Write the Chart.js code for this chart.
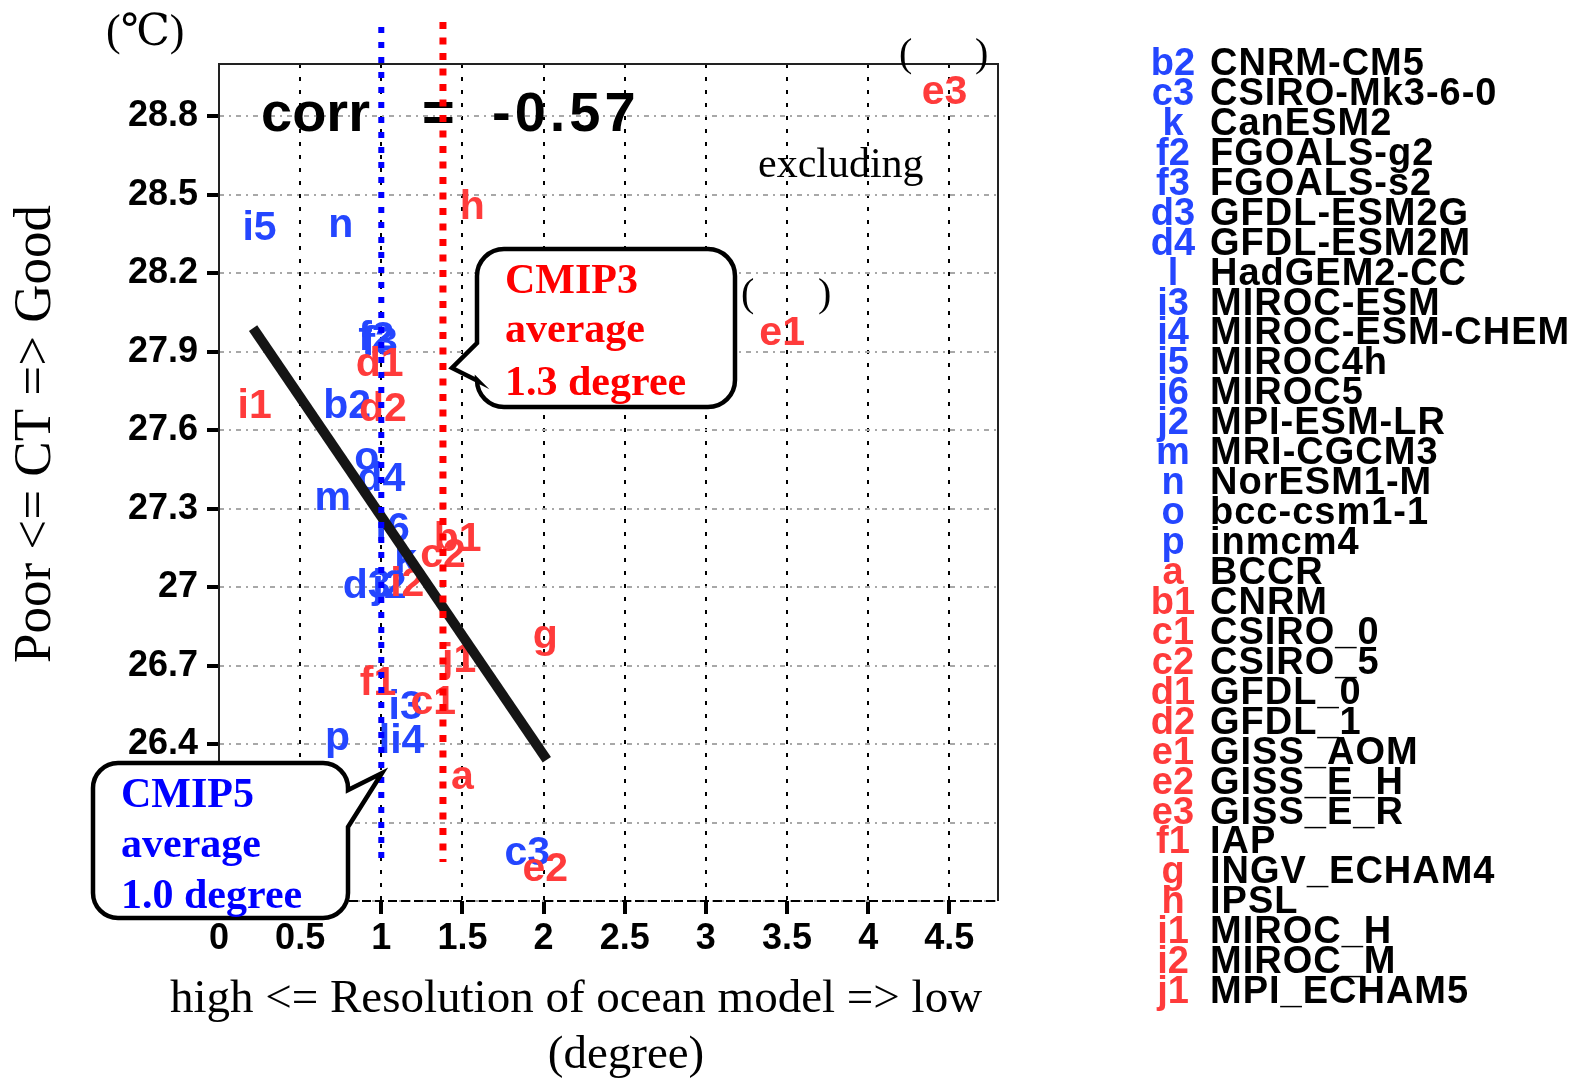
<!DOCTYPE html>
<html><head><meta charset="utf-8">
<script src="https://cdn.jsdelivr.net/npm/chart.js@4.4.0/dist/chart.umd.min.js"></script>
<style>html,body{margin:0;padding:0;background:#fff;overflow:hidden}canvas{display:block}</style>
</head><body>
<canvas id="c" width="1575" height="1082"></canvas>
<script>
// ---- data ----
const cmip5Codes = ['b2','c3','k','f2','f3','d3','d4','l','i3','i4','i5','i6','j2','m','n','o','p'];
const cmip5Names = ['CNRM-CM5','CSIRO-Mk3-6-0','CanESM2','FGOALS-g2','FGOALS-s2','GFDL-ESM2G','GFDL-ESM2M','HadGEM2-CC','MIROC-ESM','MIROC-ESM-CHEM','MIROC4h','MIROC5','MPI-ESM-LR','MRI-CGCM3','NorESM1-M','bcc-csm1-1','inmcm4'];
const cmip5Res = [0.79,1.90,1.15,0.97,0.99,0.91,1.00,1.02,1.15,1.16,0.25,1.07,1.05,0.70,0.75,0.91,0.73];
const cmip5CT  = [27.69,25.98,27.10,27.95,27.93,27.00,27.41,26.41,26.54,26.41,28.37,27.22,27.00,27.34,28.38,27.49,26.42];

const cmip3Codes = ['a','b1','c1','c2','d1','d2','e1','e2','e3','f1','g','h','i1','i2','j1'];
const cmip3Names = ['BCCR','CNRM','CSIRO_0','CSIRO_5','GFDL_0','GFDL_1','GISS_AOM','GISS_E_H','GISS_E_R','IAP','INGV_ECHAM4','IPSL','MIROC_H','MIROC_M','MPI_ECHAM5'];
const cmip3Res = [1.50,1.47,1.32,1.38,0.99,1.01,3.47,2.01,4.47,0.98,2.01,1.56,0.22,1.16,1.48];
const cmip3CT  = [26.27,27.18,26.56,27.12,27.85,27.68,27.97,25.92,28.89,26.63,26.81,28.45,27.69,27.01,26.72];

const fitRes = [0.21, 2.02];
const fitCT  = [27.99, 26.34];

const cmip5Avg = 1.0;
const cmip3Avg = 1.38;
const corrText = '-0.57';

const xTicks = [0,0.5,1,1.5,2,2.5,3,3.5,4,4.5];
const xTickLabels = ['0','0.5','1','1.5','2','2.5','3','3.5','4','4.5'];
const yTicks = [25.8,26.1,26.4,26.7,27.0,27.3,27.6,27.9,28.2,28.5,28.8];
const yTickLabels = ['25.8','26.1','26.4','26.7','27','27.3','27.6','27.9','28.2','28.5','28.8'];

// ---- styles ----
const BLUE_TXT = '#2446ff', RED_TXT = '#ff3b3b';
const GRADS = '"Liberation Sans", Arial, sans-serif';
const SERIF = '"Liberation Serif", "Times New Roman", "DejaVu Serif", serif';

function pts(xs, ys){ return xs.map((x,i)=>({x:x, y:ys[i]})); }

const labelPlugin = {
  id: 'codeLabels',
  beforeDatasetsDraw(chart){
    const ctx = chart.ctx;
    [0,1].forEach(di=>{
      const ds = chart.data.datasets[di];
      const meta = chart.getDatasetMeta(di);
      ctx.save();
      ctx.font = 'bold 41px ' + GRADS;
      ctx.fillStyle = ds.textColor;
      ctx.textAlign = 'center';
      ctx.textBaseline = 'middle';
      meta.data.forEach((p,i)=>ctx.fillText(ds.codes[i], p.x, p.y));
      ctx.restore();
    });
  }
};

function callout(ctx, L, T, R, B, r, side, tail){
  ctx.beginPath();
  ctx.moveTo(L+r, T);
  ctx.lineTo(R-r, T);
  ctx.arcTo(R, T, R, T+r, r);
  if (side === 'right'){ tail.forEach(p=>ctx.lineTo(p[0], p[1])); }
  ctx.lineTo(R, B-r);
  ctx.arcTo(R, B, R-r, B, r);
  ctx.lineTo(L+r, B);
  ctx.arcTo(L, B, L, B-r, r);
  if (side === 'left'){ tail.forEach(p=>ctx.lineTo(p[0], p[1])); }
  ctx.lineTo(L, T+r);
  ctx.arcTo(L, T, L+r, T, r);
  ctx.closePath();
  ctx.fillStyle = '#fff';
  ctx.fill();
  ctx.lineWidth = 4.5;
  ctx.strokeStyle = '#000';
  ctx.lineJoin = 'miter';
  ctx.stroke();
}

const overlayPlugin = {
  id: 'overlay',
  afterDatasetsDraw(chart){
    const {ctx, chartArea:a, scales:{x, y}} = chart;
    ctx.save();
    // frame
    ctx.lineWidth = 2;
    ctx.strokeStyle = '#222';
    ctx.beginPath();
    ctx.moveTo(a.left, a.bottom); ctx.lineTo(a.left, a.top); ctx.lineTo(a.right, a.top); ctx.lineTo(a.right, a.bottom);
    ctx.stroke();
    ctx.strokeStyle = '#000';
    ctx.setLineDash([9,4]);
    ctx.beginPath(); ctx.moveTo(a.left, a.bottom); ctx.lineTo(a.right, a.bottom); ctx.stroke();
    ctx.setLineDash([]);

    // correlation text
    ctx.fillStyle = '#000';
    ctx.font = 'bold 56px ' + GRADS;
    ctx.textBaseline = 'alphabetic';
    ctx.textAlign = 'left';
    ctx.fillText('corr', 261, 131);
    ctx.fillText('=', 422, 131);
    ctx.letterSpacing = '4px';
    ctx.fillText(corrText, 492, 131);
    ctx.letterSpacing = '0px';

    // serif annotations
    ctx.font = '42px ' + SERIF;
    ctx.fillText('excluding', 758, 177);
    ctx.font = '40px ' + SERIF;
    ctx.fillText('(', 899, 66); ctx.fillText(')', 975, 66);
    ctx.fillText('(', 741, 306); ctx.fillText(')', 818, 306);

    // average lines
    const drawAvg = (v, color, w, dash, top, bot) => {
      const px = x.getPixelForValue(v);
      ctx.save();
      ctx.strokeStyle = color; ctx.lineWidth = w; ctx.setLineDash(dash); ctx.lineCap = 'butt';
      ctx.beginPath(); ctx.moveTo(px, top); ctx.lineTo(px, bot); ctx.stroke();
      ctx.restore();
    };
    drawAvg(cmip5Avg, '#0000ff', 6, [6,9], 27, 860);
    drawAvg(cmip3Avg, '#ff0000', 7, [7,8.5], 22, 862);

    // callouts
    callout(ctx, 477, 249, 735, 407, 27, 'left', [[478,381],[452,368],[477,343]]);
    callout(ctx, 93, 763, 348, 918, 25, 'right', [[348,790],[382,773],[348,827]]);
    ctx.font = 'bold 42px ' + SERIF;
    ctx.textAlign = 'left';
    ctx.fillStyle = '#ff0000';
    ctx.fillText('CMIP3', 505, 293);
    ctx.fillText('average', 505, 342);
    ctx.fillText('1.3 degree', 505, 395);
    ctx.fillStyle = '#0000ff';
    ctx.fillText('CMIP5', 121, 807);
    ctx.fillText('average', 121, 857);
    ctx.fillText('1.0 degree', 121, 908);
    ctx.restore();
  },
  afterDraw(chart){
    const ctx = chart.ctx;
    ctx.save();
    ctx.fillStyle = '#000';
    ctx.textBaseline = 'alphabetic';
    // unit
    ctx.font = '44px ' + SERIF;
    ctx.textAlign = 'left';
    ctx.fillText('(℃)', 106, 45);
    // axis titles
    ctx.font = '47px ' + SERIF;
    ctx.textAlign = 'center';
    ctx.fillText('high <= Resolution of ocean model => low', 576, 1012);
    ctx.fillText('(degree)', 626, 1068);
    ctx.save();
    ctx.translate(50, 434);
    ctx.rotate(-Math.PI/2);
    ctx.font = '53px ' + SERIF;
    ctx.fillText('Poor <= CT => Good', 0, 0);
    ctx.restore();
    // legend
    const rows = cmip5Codes.map((c,i)=>[c, cmip5Names[i], BLUE_TXT]).concat(cmip3Codes.map((c,i)=>[c, cmip3Names[i], RED_TXT]));
    ctx.font = 'bold 38px ' + GRADS;
    rows.forEach((r,i)=>{
      const by = 75 + 29.94*i;
      ctx.fillStyle = r[2];
      ctx.textAlign = 'center';
      ctx.letterSpacing = '0px';
      ctx.fillText(r[0], 1173, by);
      ctx.fillStyle = '#000';
      ctx.textAlign = 'left';
      ctx.letterSpacing = '1px';
      ctx.fillText(r[1], 1210, by);
    });
    ctx.letterSpacing = '0px';
    ctx.restore();
  }
};

new Chart(document.getElementById('c'), {
  type: 'scatter',
  data: {
    datasets: [
      { label: 'CMIP5', data: pts(cmip5Res, cmip5CT), codes: cmip5Codes, textColor: BLUE_TXT, pointRadius: 0, pointHoverRadius: 0 },
      { label: 'CMIP3', data: pts(cmip3Res, cmip3CT), codes: cmip3Codes, textColor: RED_TXT, pointRadius: 0, pointHoverRadius: 0 },
      { label: 'fit', type: 'line', data: pts(fitRes, fitCT), borderColor: '#151515', borderWidth: 10, pointRadius: 0, showLine: true, borderCapStyle: 'butt', fill: false }
    ]
  },
  options: {
    responsive: false,
    animation: false,
    devicePixelRatio: 1,
    events: [],
    layout: { padding: { left: 0, top: 64, right: 577, bottom: 131 } },
    plugins: { legend: { display: false }, tooltip: { enabled: false } },
    scales: {
      x: {
        type: 'linear', min: 0, max: 4.8,
        afterFit(s){ s.height = 50; },
        afterBuildTicks(s){ s.ticks = xTicks.map(v=>({value:v})); },
        ticks: { callback: (v)=>xTickLabels[xTicks.indexOf(v)], font: { family: GRADS, weight: 'bold', size: 36 }, color: '#000', padding: 3, maxRotation: 0, autoSkip: false },
        grid: { color: '#000', lineWidth: 2, tickColor: '#000', tickWidth: 4, tickLength: 13, drawTicks: true },
        border: { display: false, dash: [4,9] }
      },
      y: {
        type: 'linear', min: 25.8, max: 29.0,
        afterFit(s){ s.width = 219; },
        afterBuildTicks(s){ s.ticks = yTicks.map(v=>({value:v})); },
        ticks: { callback: (v)=>yTickLabels[yTicks.findIndex(t=>Math.abs(t-v)<1e-6)], font: { family: GRADS, weight: 'bold', size: 36 }, color: '#000', padding: 9, autoSkip: false },
        grid: { color: '#a8a8a8', lineWidth: 2, tickColor: '#000', tickWidth: 4, tickLength: 12, drawTicks: true },
        border: { display: false, dash: [5,5,2,5] }
      }
    }
  },
  plugins: [labelPlugin, overlayPlugin]
});
</script>
</body></html>
